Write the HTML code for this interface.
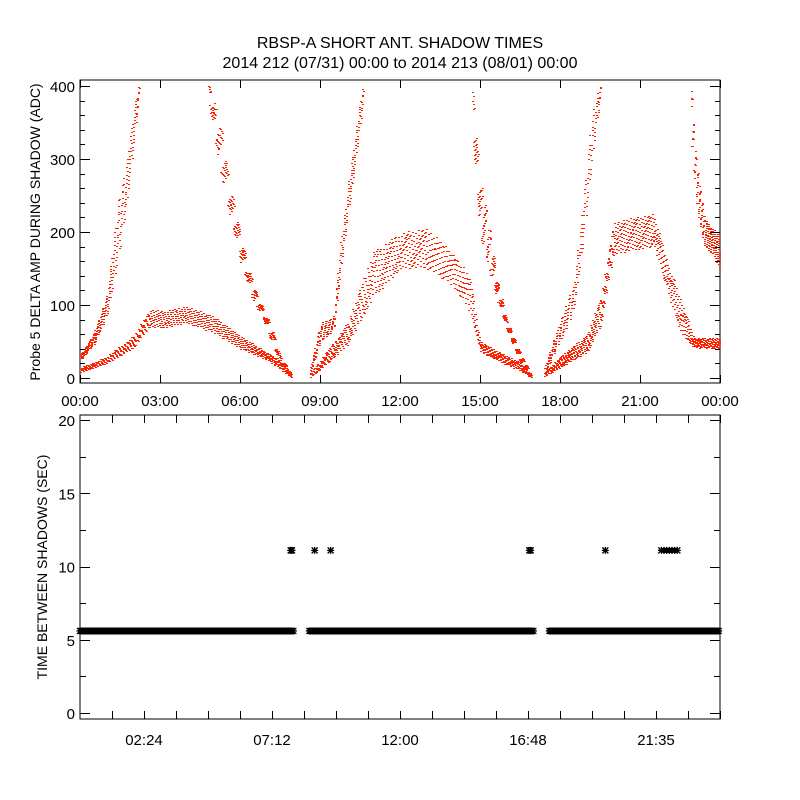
<!DOCTYPE html>
<html><head><meta charset="utf-8"><style>
html,body{margin:0;padding:0;background:#fff;}
svg{display:block;font-family:"Liberation Sans",sans-serif;}
</style></head><body>
<svg id="chart" width="800" height="800" viewBox="0 0 800 800">
<text x="400" y="48" text-anchor="middle" font-size="16">RBSP-A SHORT ANT. SHADOW TIMES</text>
<text x="400" y="68" text-anchor="middle" font-size="16">2014 212 (07/31) 00:00 to 2014 213 (08/01) 00:00</text>
<g id="topPanel"></g>
<g id="botPanel"></g>
</svg>
<script>
// ---- top panel data: band centerline samples (hours, ADC lo/hi) ----
const arch1T=[0,1,2,2.6,3,4,5,6,7,7.5,7.9];
const arch1Lo=[8,20,42,70,68,75,62,40,25,12,1];
const arch1Hi=[14,30,58,95,92,98,85,58,35,25,6];
const rise1T=[0,0.5,1,1.4,1.7,2,2.2];
const rise1Lo=[25,45,85,160,230,320,390];
const rise1Hi=[32,62,115,240,290,370,405];
const fall1T=[4.8,5.2,5.6,6,6.4,6.8,7.2,7.5,7.9];
const fall1Lo=[380,290,220,160,110,85,45,18,3];
const fall1Hi=[405,360,270,200,140,100,70,30,8];
const arch2T=[8.6,9,10,11,12,13,14,14.6,15,16,16.5,16.9];
const arch2Lo=[1,12,45,110,150,150,125,90,35,18,10,1];
const arch2Hi=[6,25,75,175,200,205,170,140,50,30,22,4];
const rise2T=[8.6,9,9.5,9.8,10.1,10.4,10.6];
const rise2Lo=[3,50,65,160,240,320,380];
const rise2Hi=[10,75,85,200,280,360,405];
const fall2T=[14.7,15,15.3,15.6,16,16.5,16.9];
const fall2Lo=[330,190,150,110,65,20,2];
const fall2Hi=[405,270,220,140,80,35,6];
const arch3T=[17.4,18,19,19.5,20,21.5,22,22.5,23,24];
const arch3Lo=[2,15,35,70,170,180,120,60,42,40];
const arch3Hi=[8,30,60,110,215,225,160,110,55,55];
const rise3T=[17.4,18,18.5,18.9,19.2,19.5];
const rise3Lo=[5,50,90,200,300,390];
const rise3Hi=[15,80,130,260,370,405];
const fall3T=[22.9,23.1,23.4,23.7,24];
const fall3Lo=[330,230,180,170,150];
const fall3Hi=[405,300,220,205,200];
const bands=[[arch1T,arch1Lo,arch1Hi,700],[rise1T,rise1Lo,rise1Hi,260],[fall1T,fall1Lo,fall1Hi,300],
 [arch2T,arch2Lo,arch2Hi,900],[rise2T,rise2Lo,rise2Hi,220],[fall2T,fall2Lo,fall2Hi,300],
 [arch3T,arch3Lo,arch3Hi,800],[rise3T,rise3Lo,rise3Hi,200],[fall3T,fall3Lo,fall3Hi,200]];
const topXTicks=["00:00","03:00","06:00","09:00","12:00","15:00","18:00","21:00","00:00"];
const topYTicks=[0,100,200,300,400];
// ---- bottom panel data ----
const segStart=[0,8.6,17.6];
const segEnd=[8.0,17.05,24];
const normalInterval=5.6;
const doubleTimes=[7.9,7.95,8.8,9.4,16.85,16.9,19.7,21.8,21.9,22.0,22.1,22.2,22.3,22.4];
const doubleInterval=11.1;
const botXTickLabels=["02:24","07:12","12:00","16:48","21:35"];
const botXTickHours=[2.4,7.2,12,16.8,21.6];
const botYTicks=[0,5,10,15,20];

const NS="http://www.w3.org/2000/svg";
function mk(parent,tag,attrs){const e=document.createElementNS(NS,tag);for(const k in attrs)e.setAttribute(k,attrs[k]);parent.appendChild(e);return e;}
const X0=80,X1=720;
const xs=h=>X0+h/24*(X1-X0);
const yTop=v=>378-v*0.73;
const yBot=v=>713-v*14.65;
const topG=document.getElementById('topPanel'), botG=document.getElementById('botPanel');

let f=mk(topG,'rect',{x:80,y:80,width:640,height:303,fill:'none',stroke:'#000','stroke-width':1});


const dots=mk(topG,'g',{fill:'#ff2200'});


function interp(T,V,t){for(let i=0;i<T.length-1;i++){if(t<=T[i+1]){const a=(t-T[i])/(T[i+1]-T[i]);return V[i]+a*(V[i+1]-V[i]);}}return V[V.length-1];}
let path='';
bands.forEach(([T,L,H,n])=>{
  const t0=T[0],t1=T[T.length-1];
  for(let i=0;i<n;i++){
    const u=(0.5+i*0.7548777)%1;
    const tj=t0+(t1-t0)*u;
    const fr=(0.5+i*0.5698403)%1;
    const v=interp(T,L,tj)+fr*(interp(T,H,tj)-interp(T,L,tj));
    if(v>405)continue;
    const px=Math.round(xs(tj)), py=Math.round(yTop(v));
    if(py<81||py>382||px<80||px>719)continue;
    path+='M'+px+' '+py+'h2v1h-2z';
  }
});
mk(dots,'path',{d:path});
const ta=mk(topG,'g',{stroke:'#000','stroke-width':1});


for(let v=0;v<=400;v+=20){const y=Math.round(yTop(v))+0.5;const L=v%100==0?10:5;
 mk(ta,'line',{x1:80,y1:y,x2:80+L,y2:y});mk(ta,'line',{x1:720,y1:y,x2:720-L,y2:y});}
for(let i=0;i<=8;i++){const x=Math.round(xs(i*3))+0.5;mk(ta,'line',{x1:x,y1:383,x2:x,y2:375});mk(ta,'line',{x1:x,y1:80,x2:x,y2:88});}
topYTicks.forEach(v=>{const t=mk(topG,'text',{x:75,y:yTop(v)+6,'text-anchor':'end','font-size':15});t.textContent=v;
 
 });
topXTicks.forEach((s,i)=>{const t=mk(topG,'text',{x:xs(i*3),y:406,'text-anchor':'middle','font-size':15});t.textContent=s;
 
 });
let yt=mk(topG,'text',{x:0,y:0,transform:'translate(40,232) rotate(-90)','text-anchor':'middle','font-size':14});
yt.textContent='Probe 5 DELTA AMP DURING SHADOW (ADC)';



f=mk(botG,'rect',{x:80,y:415,width:640,height:304,fill:'none',stroke:'#000','stroke-width':1});


const ba=mk(botG,'g',{stroke:'#000','stroke-width':1});


for(let v=0;v<=20;v+=5){const y=Math.round(yBot(v))+0.5;mk(ba,'line',{x1:80,y1:y,x2:90,y2:y});mk(ba,'line',{x1:720,y1:y,x2:710,y2:y});}
for(let v=2.5;v<20;v+=5){const y=Math.round(yBot(v))+0.5;mk(ba,'line',{x1:80,y1:y,x2:86,y2:y});mk(ba,'line',{x1:720,y1:y,x2:714,y2:y});}
for(let h=1.2;h<24;h+=1.2){const x=Math.round(xs(h))+0.5;mk(ba,'line',{x1:x,y1:719,x2:x,y2:711});mk(ba,'line',{x1:x,y1:415,x2:x,y2:423});}
botYTicks.forEach(v=>{const t=mk(botG,'text',{x:75,y:yBot(v)+6,'text-anchor':'end','font-size':15});t.textContent=v;
 
 });
botXTickLabels.forEach((s,i)=>{const t=mk(botG,'text',{x:xs(botXTickHours[i]),y:745,'text-anchor':'middle','font-size':15});t.textContent=s;
 
 });
yt=mk(botG,'text',{x:0,y:0,transform:'translate(47,567) rotate(-90)','text-anchor':'middle','font-size':14});
yt.textContent='TIME BETWEEN SHADOWS (SEC)';


function ast(x,y){return 'M'+(x-3.5)+' '+y+'h7M'+x+' '+(y-3.5)+'v7M'+(x-3)+' '+(y-3)+'l6 6M'+(x-3)+' '+(y+3)+'l6 -6';}
let ap='';
segStart.forEach((s,i)=>{for(let h=s;h<=segEnd[i];h+=0.05){ap+=ast(xs(h),yBot(normalInterval));}});
doubleTimes.forEach(h=>{ap+=ast(xs(h),yBot(doubleInterval));});
const as=mk(botG,'path',{d:ap,stroke:'#000','stroke-width':1.3,fill:'none'});


</script>
</body></html>
